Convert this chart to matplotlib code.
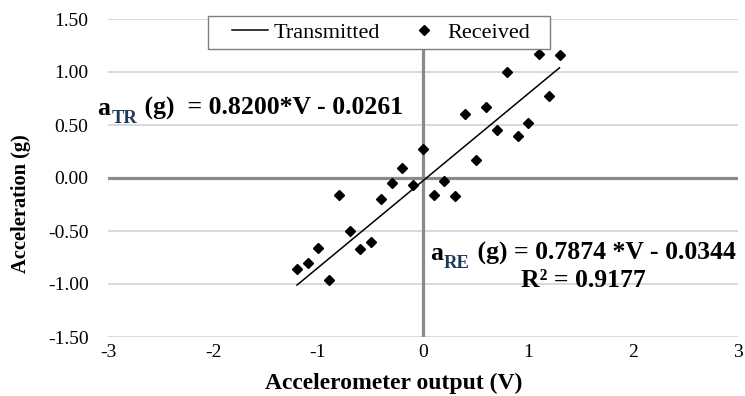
import numpy as np
import matplotlib.pyplot as plt
from matplotlib.lines import Line2D
from matplotlib.patches import Rectangle

plt.rcParams['font.family'] = ['Liberation Serif', 'DejaVu Serif']

# measured accelerometer output (V) and received acceleration (g)
volts = [-1.2, -1.1, -1.0, -0.9, -0.8, -0.7, -0.6, -0.5, -0.4, -0.3, -0.2, -0.1, 0.0,
         0.1, 0.2, 0.3, 0.4, 0.5, 0.6, 0.7, 0.8, 0.9, 1.0, 1.1, 1.2, 1.3]
received = [-0.86, -0.80, -0.66, -0.96, -0.16, -0.50, -0.67, -0.60, -0.20, -0.05, 0.09, -0.07, 0.27,
            -0.16, -0.03, -0.17, 0.60, 0.17, 0.67, 0.45, 1.00, 0.40, 0.52, 1.17, 0.77, 1.16]

# transmitted calibration line a = 0.82*V - 0.0261
tr_slope = 0.8200
tr_offset = -0.0261
tr_range = [-1.2, 1.3]

x_ticks = [-3, -2, -1, 0, 1, 2, 3]
y_ticks = [-1.5, -1.0, -0.5, 0.0, 0.5, 1.0, 1.5]

W, H = 745, 396
fig = plt.figure(figsize=(W / 100, H / 100), dpi=100)
ax = fig.add_axes([108 / W, 1 - 337 / H, (738 - 108) / W, (337 - 19) / H])
ax.set_xlim(-3, 3)
ax.set_ylim(-1.5, 1.5)

for s in ax.spines.values():
    s.set_visible(False)
for yv in y_ticks:
    if yv != 0:
        ax.axhline(yv, color='#d3d3d3', lw=1.2, zorder=0)
ax.axhline(0, color='#8a8a8a', lw=2.3, zorder=1)
ax.axvline(0, color='#8a8a8a', lw=2.3, zorder=1)

ax.set_xticks(x_ticks)
ax.set_yticks(y_ticks)
ax.set_xticklabels([str(v) for v in x_ticks])
ax.set_yticklabels(['%.2f' % v for v in y_ticks])
ax.tick_params(length=0, labelsize=14)
ax.tick_params(axis='y', pad=14)
ax.tick_params(axis='x', pad=5)

ax.set_xlabel('Accelerometer output (V)', fontsize=17, fontweight='bold', va='center')
ax.xaxis.set_label_coords((394 - 108) / 630, (337 - 383) / 318)
ax.set_ylabel('Acceleration (g)', fontsize=14.7, fontweight='bold', va='center', ha='center')
ax.yaxis.set_label_coords((21 - 108) / 630, (337 - 204) / 318)

tx = np.array(tr_range)
ax.plot(tx, tr_slope * tx + tr_offset, color='black', lw=1.1, zorder=3)
ax.plot(volts, received, linestyle='none', marker='D', ms=5, color='black', zorder=4)

sub_color = '#1f3a5f'
renderer = fig.canvas.get_renderer()


def equation(x, y, head, sub, tail, size=18.5):
    a = ax.text(x, y, head, fontsize=size, fontweight='bold', va='baseline', clip_on=False)
    s = ax.annotate(sub, xy=(1, 0), xycoords=a, xytext=(0.5, -5), textcoords='offset points',
                    fontsize=size * 0.72, fontweight='bold', color=sub_color, va='bottom')
    sub_w = s.get_window_extent(renderer).width * 72 / 100
    t = ax.annotate(tail, xy=(1, 0), xycoords=a, xytext=(sub_w + 1, 0),
                    textcoords='offset points', fontsize=size, fontweight='bold', va='bottom')
    return a, t


equation(-3.1, 0.595, 'a', 'TR', ' (g)  = 0.8200*V - 0.0261')
re_head, re_tail = equation(0.07, -0.774, 'a', 'RE', ' (g) = 0.7874 *V - 0.0344')

# R² line is centred under the received-signal equation
x0 = re_head.get_window_extent(renderer).x0
x1 = re_tail.get_window_extent(renderer).x1
xc = ax.transData.inverted().transform(((x0 + x1) / 2, 0))[0]
ax.text(xc, -1.028, 'R\u00b2 = 0.9177', fontsize=18.5, fontweight='bold', ha='center', va='baseline')

# legend box
fig.add_artist(Rectangle((208 / W, 1 - 49 / H), 342 / W, 33 / H, transform=fig.transFigure,
                         facecolor='white', edgecolor='#7f7f7f', lw=1.0, zorder=1))
handles = [Line2D([], [], color='black', lw=1.1),
           Line2D([], [], linestyle='none', marker='D', ms=5, color='black')]
leg = fig.legend(handles, ['Transmitted', 'Received'], ncol=2, loc='center',
                 bbox_to_anchor=(381 / W, 1 - 33 / H), fontsize=16, frameon=False,
                 handlelength=1.62, handletextpad=0.22, columnspacing=1.2,
                 borderpad=0.1)

fig.savefig('out.png', dpi=100)
